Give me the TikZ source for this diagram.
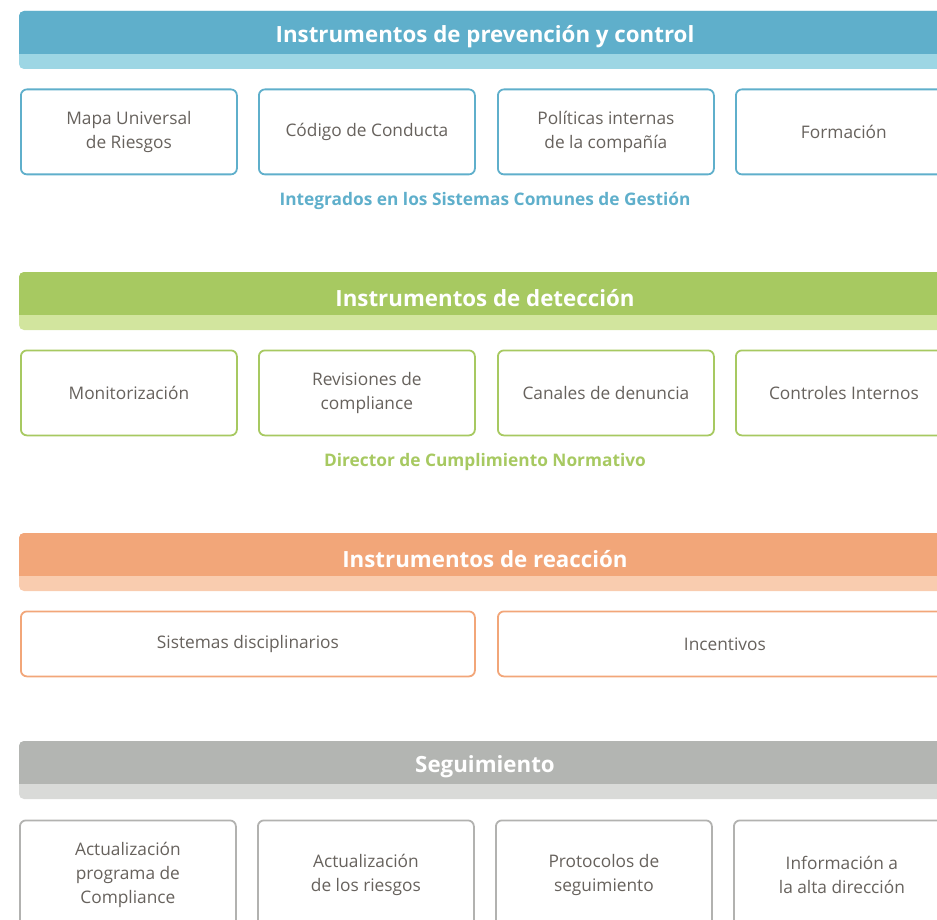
\documentclass[tikz,border=0pt]{standalone}
\usepackage{fontspec}
\setmainfont{Open Sans}
\definecolor{blueD}{HTML}{5FAFCB}
\definecolor{blueL}{HTML}{9DD6E4}
\definecolor{greenD}{HTML}{A7C961}
\definecolor{greenL}{HTML}{D2E59E}
\definecolor{orangeD}{HTML}{F2A679}
\definecolor{orangeL}{HTML}{F9CCAF}
\definecolor{grayD}{HTML}{B3B5B2}
\definecolor{grayL}{HTML}{D9DAD8}
\definecolor{grayB}{HTML}{B2B2B0}
\definecolor{txt}{HTML}{67625D}
\tikzset{
  boxstyle/.style={draw=#1, line width=1.8pt, rounded corners=6pt, fill=white,
    anchor=north west, align=center, text=txt, inner sep=2pt,
    font=\fontsize{17.3}{24}\selectfont},
  headtext/.style={text=white, font=\fontsize{22.3}{24}\selectfont\bfseries},
  subtext/.style={text=#1, font=\fontsize{17.3}{20}\selectfont\bfseries},
}
\newcommand\bandrow[3]{%
  \fill[#2, rounded corners=5pt] (19,#1) rectangle (951,#1+58);
  \fill[#3, rounded corners=5pt] (19,#1) rectangle (951,#1+49);
  \fill[#2] (19,#1+43) rectangle (951,#1+50);
}
\begin{document}
\begin{tikzpicture}[x=1pt,y=-1pt]
\useasboundingbox (0,0) rectangle (937,920);
\clip (0,0) rectangle (937,920);
% Band 1
\bandrow{11}{blueL}{blueD}
\node[headtext] (h1) at (485,37) {Instrumentos de prevención y control};
\node[boxstyle=blueD, minimum width=216, minimum height=85] (b11) at (20,88.5) {Mapa Universal\\de Riesgos};
\node[boxstyle=blueD, minimum width=216, minimum height=85] (b12) at (258,88.5) {Código de Conducta};
\node[boxstyle=blueD, minimum width=216, minimum height=85] (b13) at (497,88.5) {Políticas internas\\de la compañía};
\node[boxstyle=blueD, minimum width=216, minimum height=85] (b14) at (735,88.5) {Formación};
\node[subtext=blueD] (s1) at (485,201) {Integrados en los Sistemas Comunes de Gestión};
% Band 2
\bandrow{272}{greenL}{greenD}
\node[headtext] (h2) at (485,298) {Instrumentos de detección};
\node[boxstyle=greenD, minimum width=216, minimum height=85] (b21) at (20,349.5) {Monitorización};
\node[boxstyle=greenD, minimum width=216, minimum height=85] (b22) at (258,349.5) {Revisiones de\\compliance};
\node[boxstyle=greenD, minimum width=216, minimum height=85] (b23) at (497,349.5) {Canales de denuncia};
\node[boxstyle=greenD, minimum width=216, minimum height=85] (b24) at (735,349.5) {Controles Internos};
\node[subtext=greenD] (s2) at (485,462) {Director de Cumplimiento Normativo};
% Band 3
\bandrow{533}{orangeL}{orangeD}
\node[headtext] (h3) at (485,559) {Instrumentos de reacción};
\node[boxstyle=orangeD, minimum width=454, minimum height=65] (b31) at (20,610.5) {Sistemas disciplinarios};
\node[boxstyle=orangeD, minimum width=454, minimum height=65] (b32) at (497,610.5) {Incentivos};
% Band 4
\bandrow{741}{grayL}{grayD}
\node[headtext] (h4) at (485,767) {Seguimiento};
\node[boxstyle=grayB, minimum width=216, minimum height=110] (b41) at (19,819.5) {Actualización\\programa de\\Compliance};
\node[boxstyle=grayB, minimum width=216, minimum height=110] (b42) at (257,819.5) {Actualización\\de los riesgos};
\node[boxstyle=grayB, minimum width=216, minimum height=110] (b43) at (495,819.5) {Protocolos de\\seguimiento};
\node[boxstyle=grayB, minimum width=216, minimum height=110] (b44) at (733,819.5) {Información a\\la alta dirección};
\end{tikzpicture}
\end{document}
